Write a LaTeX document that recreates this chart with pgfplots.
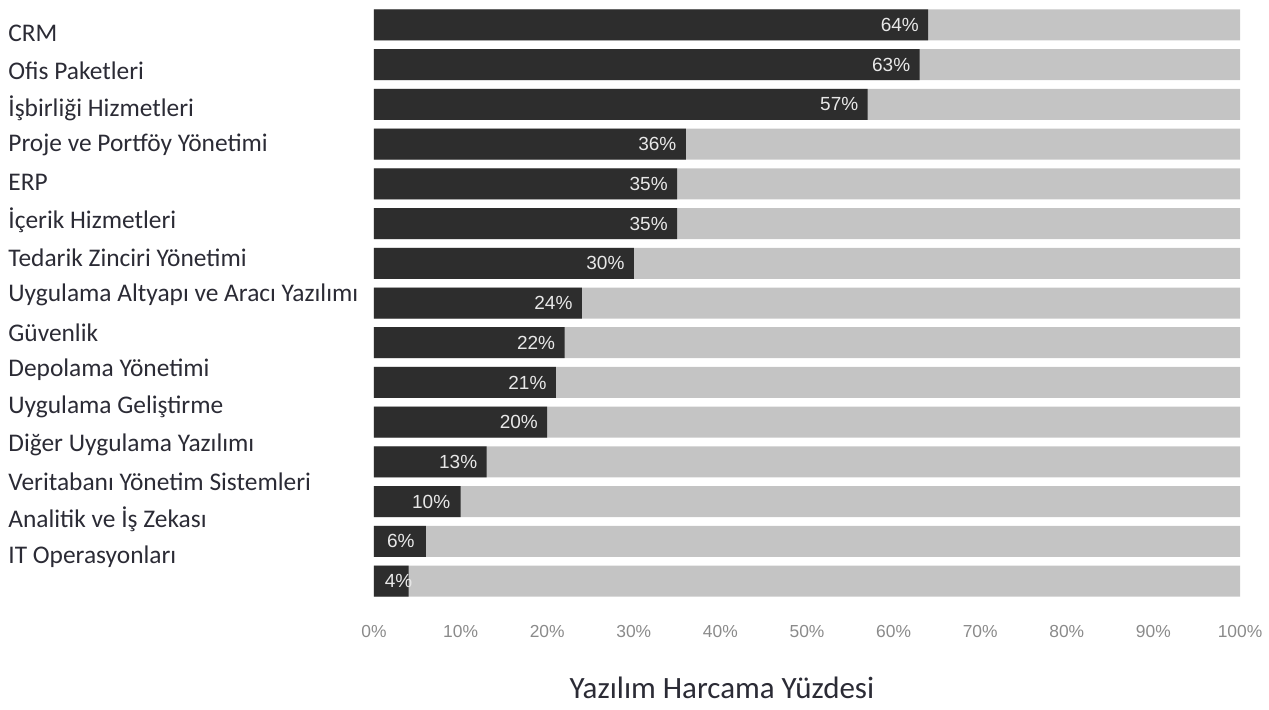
\documentclass[border=0pt]{standalone}
\usepackage{fontspec}
\setmainfont{Carlito}
\newfontfamily\arial{Liberation Sans}
\usepackage{pgfplots}
\usepackage{pgfplotstable}
\pgfplotsset{compat=1.18}

\definecolor{bardark}{HTML}{2D2D2D}
\definecolor{barlight}{HTML}{C4C4C4}
\definecolor{ticktxt}{HTML}{8A8A8A}
\definecolor{labtxt}{HTML}{2B2B35}
\definecolor{valtxt}{HTML}{E8E8E8}

% row, share (%), label shift (pt)
\pgfplotstableread{
row val rest shift
1  64 100 -4.5
2  63 100 -4.5
3  57 100 -4.5
4  36 100 -4.5
5  35 100 -4.5
6  35 100 -4.5
7  30 100 -4.5
8  24 100 -4.5
9  22 100 -4.5
10 21 100 -4.5
11 20 100 -4.5
12 13 100 -4.5
13 10 100 -5
14 6  100 -5.5
15 4  100 2
}\spend

\begin{document}
\begin{tikzpicture}
\path[use as bounding box] (0,0) rectangle (634.5pt,-355pt);
\begin{axis}[
  at={(187pt,-2.5pt)}, anchor=north west,
  scale only axis,
  width=433pt, height=298pt,
  xbar, bar shift=0pt,
  bar width=15.5pt,
  xmin=0, xmax=100,
  ymin=0.5, ymax=15.5,
  y dir=reverse,
  axis line style={draw=none},
  major tick length=0pt,
  xtick={0,10,...,100},
  xticklabels={0\%,10\%,20\%,30\%,40\%,50\%,60\%,70\%,80\%,90\%,100\%},
  xticklabel style={font=\arial\fontsize{8.7}{10}\selectfont, text=ticktxt, anchor=center, yshift=-15.5pt},
  ytick={1.205,2.147,3.089,4.031,4.973,5.915,6.857,7.799,8.741,9.683,10.625,11.567,12.509,13.451,14.393},
  yticklabels={CRM,Ofis Paketleri,İşbirliği Hizmetleri,Proje ve Portföy Yönetimi,ERP,İçerik Hizmetleri,Tedarik Zinciri Yönetimi,Uygulama Altyapı ve Aracı Yazılımı,Güvenlik,Depolama Yönetimi,Uygulama Geliştirme,Diğer Uygulama Yazılımı,Veritabanı Yönetim Sistemleri,Analitik ve İş Zekası,IT Operasyonları},
  yticklabel style={font=\fontsize{12.7}{15}\selectfont, text=labtxt, anchor=west, inner sep=0pt, xshift=-183pt},
  xlabel={Yazılım Harcama Yüzdesi},
  xlabel style={at={(axis description cs:0.4018,0)}, anchor=center, yshift=-43.5pt, font=\fontsize{15.5}{18}\selectfont, text=labtxt},
]
% light background bar (full 100 %)
\addplot[fill=barlight, draw=none] table[x=rest, y=row] {\spend};
% dark bar with value label at its end
\addplot[fill=bardark, draw=none,
  point meta=x,
  visualization depends on={\thisrow{shift} \as \lshift},
  nodes near coords={\pgfmathprintnumber[assume math mode=true]{\pgfplotspointmeta}\%},
  every node near coord/.style={font=\arial\fontsize{9.5}{11}\selectfont, text=valtxt, anchor=east, inner sep=0pt, xshift=\lshift pt}]
  table[x=val, y=row] {\spend};
\end{axis}
\end{tikzpicture}
\end{document}
